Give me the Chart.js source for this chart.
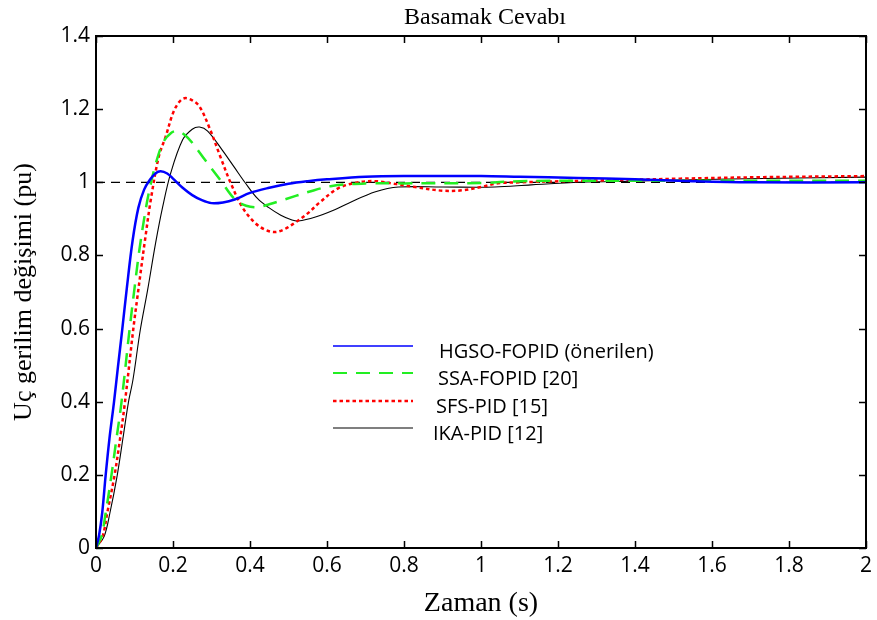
<!DOCTYPE html>
<html>
<head>
<meta charset="utf-8">
<title>Basamak Cevabı</title>
<script src="https://cdn.jsdelivr.net/npm/chart.js@4.4.1/dist/chart.umd.min.js"></script>
<style>
  html, body { margin: 0; padding: 0; background: #fff; }
  #wrap { width: 877px; height: 620px; position: relative; }
</style>
</head>
<body>
<div id="wrap"><canvas id="stepChart"></canvas></div>
<script>
/* =========================
   DATA
========================= */
const chartTitle = "Basamak Cevabı";
const seriesNames = ["HGSO-FOPID (önerilen)", "SSA-FOPID [20]", "SFS-PID [15]", "IKA-PID [12]"];

const tHgso = [0, 0.008, 0.016, 0.025, 0.035, 0.0465, 0.057, 0.068, 0.08, 0.095, 0.11, 0.125, 0.14, 0.155, 0.168, 0.185, 0.2, 0.225, 0.25, 0.275, 0.3, 0.33, 0.36, 0.4, 0.45, 0.5, 0.55, 0.6, 0.7, 0.8, 1.0, 1.1, 1.25, 1.4, 1.55, 1.7, 2.0];
const yHgso = [0, 0.035, 0.095, 0.198, 0.3, 0.397, 0.495, 0.596, 0.71, 0.84, 0.93, 0.98, 1.007, 1.025, 1.03, 1.024, 1.01, 0.985, 0.965, 0.951, 0.943, 0.945, 0.953, 0.971, 0.985, 0.996, 1.003, 1.008, 1.015, 1.017, 1.017, 1.015, 1.012, 1.008, 1.003, 1.0, 1.0];

const tSsa = [0, 0.014, 0.025, 0.04, 0.052, 0.066, 0.087, 0.1, 0.112, 0.125, 0.137, 0.155, 0.175, 0.195, 0.212, 0.23, 0.25, 0.284, 0.323, 0.362, 0.39, 0.42, 0.45, 0.484, 0.553, 0.613, 0.7, 0.8, 1.0, 1.1, 1.3, 1.6, 2.0];
const ySsa = [0, 0.031, 0.095, 0.198, 0.29, 0.397, 0.596, 0.71, 0.81, 0.9, 0.97, 1.05, 1.11, 1.135, 1.14, 1.13, 1.108, 1.06, 1.006, 0.952, 0.936, 0.932, 0.94, 0.951, 0.974, 0.99, 0.997, 0.997, 0.998, 1.003, 1.004, 1.004, 1.004];

const tSfs = [0, 0.017, 0.029, 0.048, 0.062, 0.075, 0.097, 0.108, 0.118, 0.127, 0.142, 0.163, 0.181, 0.2, 0.215, 0.23, 0.25, 0.269, 0.295, 0.323, 0.349, 0.38, 0.413, 0.44, 0.465, 0.49, 0.519, 0.55, 0.579, 0.63, 0.682, 0.726, 0.78, 0.829, 0.9, 0.95, 1.0, 1.044, 1.1, 1.217, 1.4, 1.517, 1.733, 2.0];
const ySfs = [0, 0.031, 0.095, 0.198, 0.295, 0.397, 0.6, 0.69, 0.77, 0.84, 0.95, 1.07, 1.125, 1.189, 1.218, 1.23, 1.224, 1.207, 1.148, 1.07, 1.0, 0.932, 0.889, 0.87, 0.864, 0.872, 0.891, 0.915, 0.943, 0.984, 1.0, 1.003, 0.995, 0.987, 0.977, 0.978, 0.987, 0.997, 1.0, 1.003, 1.007, 1.01, 1.014, 1.017];

const tIka = [0, 0.021, 0.036, 0.055, 0.07, 0.084, 0.096, 0.115, 0.134, 0.155, 0.173, 0.194, 0.225, 0.25, 0.269, 0.29, 0.328, 0.36, 0.388, 0.42, 0.447, 0.48, 0.509, 0.525, 0.57, 0.62, 0.656, 0.726, 0.786, 0.9, 1.036, 1.13, 1.26, 1.39, 1.646, 2.0];
const yIka = [0, 0.031, 0.095, 0.198, 0.3, 0.397, 0.46, 0.596, 0.705, 0.835, 0.932, 1.025, 1.116, 1.145, 1.151, 1.14, 1.088, 1.04, 0.998, 0.955, 0.932, 0.91, 0.897, 0.894, 0.905, 0.925, 0.943, 0.974, 0.987, 0.987, 0.987, 0.993, 1.0, 1.003, 1.009, 1.014];

const tRef = [0, 2];
const yRef = [1, 1];

const xTickValues = [0, 0.2, 0.4, 0.6, 0.8, 1, 1.2, 1.4, 1.6, 1.8, 2];
const yTickValues = [0, 0.2, 0.4, 0.6, 0.8, 1, 1.2, 1.4];

const toPoints = (t, y) => t.map((v, i) => ({ x: v, y: y[i] }));
const fmt = (v) => String(Math.round(v * 10) / 10);

/* =========================
   PLUGINS – title over the plot, frame with inward ticks, legend inside
========================= */
const frameTicks = {
  id: "frameTicks",
  afterDraw(chart) {
    const { ctx, chartArea: a, scales } = chart;
    const len = 7;
    ctx.save();
    ctx.strokeStyle = "#000";
    ctx.lineWidth = 1.5;
    xTickValues.forEach((v) => {
      const px = Math.round(scales.x.getPixelForValue(v)) + 0.5;
      ctx.beginPath();
      ctx.moveTo(px, a.bottom); ctx.lineTo(px, a.bottom - len);
      ctx.moveTo(px, a.top); ctx.lineTo(px, a.top + len);
      ctx.stroke();
    });
    yTickValues.forEach((v) => {
      const py = Math.round(scales.y.getPixelForValue(v)) + 0.5;
      ctx.beginPath();
      ctx.moveTo(a.left, py); ctx.lineTo(a.left + len, py);
      ctx.moveTo(a.right, py); ctx.lineTo(a.right - len, py);
      ctx.stroke();
    });
    ctx.lineWidth = 2;
    ctx.strokeRect(a.left, a.top, a.right - a.left, a.bottom - a.top);

    // titel centred over the plot area, not the canvas
    ctx.fillStyle = "#000";
    ctx.font = "24px 'Liberation Serif', serif";
    ctx.textAlign = "center";
    ctx.textBaseline = "middle";
    ctx.fillText(chartTitle, (a.left + a.right) / 2 + 4, 18);
    ctx.restore();
  }
};

const insideLegend = {
  id: "insideLegend",
  afterDatasetsDraw(chart, args, opts) {
    const ctx = chart.ctx;
    ctx.save();
    ctx.font = opts.font;
    ctx.textBaseline = "middle";
    ctx.fillStyle = "#000";
    opts.rows.forEach((row, i) => {
      const ds = chart.data.datasets[i];
      ctx.strokeStyle = ds.borderColor;
      ctx.lineWidth = row.lw;
      ctx.setLineDash(ds.borderDash || []);
      ctx.beginPath();
      ctx.moveTo(opts.x0, row.y);
      ctx.lineTo(opts.x1, row.y);
      ctx.stroke();
      ctx.setLineDash([]);
      ctx.fillText(ds.label, row.tx, row.y + 6);
    });
    ctx.restore();
  }
};

/* =========================
   LINE CHART – BASAMAK CEVABI
========================= */
const stepCtx = document.getElementById("stepChart");

new Chart(stepCtx, {
  type: "line",
  data: {
    datasets: [
      {
        label: seriesNames[0],
        data: toPoints(tHgso, yHgso),
        borderColor: "#0000ff",
        borderWidth: 2.5,
        pointRadius: 0,
        tension: 0.35
      },
      {
        label: seriesNames[1],
        data: toPoints(tSsa, ySsa),
        borderColor: "#22ee22",
        borderWidth: 2.5,
        borderDash: [14, 9],
        pointRadius: 0,
        tension: 0.35
      },
      {
        label: seriesNames[2],
        data: toPoints(tSfs, ySfs),
        borderColor: "#ff0000",
        borderWidth: 2.5,
        borderDash: [3.5, 3],
        pointRadius: 0,
        tension: 0.35
      },
      {
        label: seriesNames[3],
        data: toPoints(tIka, yIka),
        borderColor: "#000000",
        borderWidth: 1.1,
        pointRadius: 0,
        tension: 0.35
      },
      {
        label: "ref",
        data: toPoints(tRef, yRef),
        borderColor: "#000000",
        borderWidth: 1.3,
        borderDash: [9, 6],
        pointRadius: 0
      }
    ]
  },
  plugins: [frameTicks, insideLegend],
  options: {
    responsive: true,
    maintainAspectRatio: false,
    animation: false,
    layout: { padding: { left: 0, right: 7, top: 36, bottom: 0 } },
    plugins: {
      legend: { display: false },
      tooltip: { enabled: false },
      title: { display: false },
      insideLegend: {
        font: "20px 'Open Sans', sans-serif",
        x0: 333,
        x1: 413,
        rows: [
          { y: 346, tx: 439, lw: 1.6 },
          { y: 373, tx: 438, lw: 2 },
          { y: 401, tx: 436, lw: 2.5 },
          { y: 428, tx: 433, lw: 1.1 }
        ]
      }
    },
    scales: {
      x: {
        type: "linear",
        min: 0,
        max: 2,
        afterBuildTicks: (scale) => { scale.ticks = xTickValues.map((v) => ({ value: v })); },
        afterFit: (scale) => { scale.height = 72; },
        grid: { drawOnChartArea: false, drawTicks: false },
        border: { display: false },
        ticks: {
          padding: 5,
          color: "#000",
          font: { family: "'Open Sans', sans-serif", size: 21 },
          maxRotation: 0,
          callback: fmt
        },
        title: {
          display: true,
          text: "Zaman (s)",
          color: "#000",
          font: { family: "'Liberation Serif', serif", size: 28 },
          padding: { top: 0, bottom: 0 }
        }
      },
      y: {
        min: 0,
        max: 1.4,
        afterBuildTicks: (scale) => { scale.ticks = yTickValues.map((v) => ({ value: v })); },
        afterFit: (scale) => { scale.width = 96; },
        grid: { drawOnChartArea: false, drawTicks: false },
        border: { display: false },
        ticks: {
          padding: 6,
          color: "#000",
          font: { family: "'Open Sans', sans-serif", size: 21 },
          callback: fmt
        },
        title: {
          display: true,
          text: "Uç gerilim değişimi (pu)",
          color: "#000",
          font: { family: "'Liberation Serif', serif", size: 26 },
          padding: { top: 9, bottom: 0 }
        }
      }
    }
  }
});
</script>
</body>
</html>
